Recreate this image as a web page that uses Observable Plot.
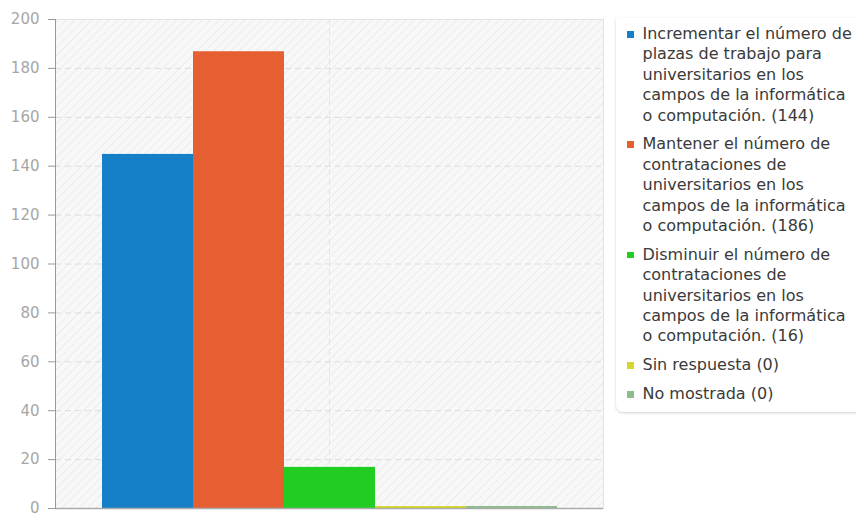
<!DOCTYPE html>
<html><head><meta charset="utf-8">
<script src="https://cdn.jsdelivr.net/npm/d3@7"></script>
<script src="https://cdn.jsdelivr.net/npm/@observablehq/plot@0.6"></script>
<style>
body{margin:0;background:#fff;font-family:"DejaVu Sans",sans-serif;}
#wrap{position:relative;width:856px;height:513px;overflow:hidden;}
#chart{position:absolute;left:0;top:0;}
#legend{position:absolute;left:616px;top:18px;width:250px;height:394px;box-sizing:border-box;
  padding:6px 0 0 11px;border-radius:0 0 0 7px;background:#fff;
  box-shadow:0 1px 3px rgba(0,0,0,0.18);font-size:16px;color:#3a3a3a;}
.item{display:flex;align-items:flex-start;margin-bottom:8.4px;line-height:20.4px;}
.sw{width:6.5px;height:6.5px;margin-top:7px;margin-right:9px;flex:none;}
.lbl{white-space:pre-line;}
</style></head>
<body><div id="wrap"><div id="chart"></div><div id="legend"></div></div>
<script>
const series = [
  "Incrementar el número de\nplazas de trabajo para\nuniversitarios en los\ncampos de la informática\no computación.",
  "Mantener el número de\ncontrataciones de\nuniversitarios en los\ncampos de la informática\no computación.",
  "Disminuir el número de\ncontrataciones de\nuniversitarios en los\ncampos de la informática\no computación.",
  "Sin respuesta",
  "No mostrada"
];
const values = [144, 186, 16, 0, 0];
const colors = ["#1580c8", "#e65f33", "#22cd22", "#d6d62e", "#8dbd8d"];
const yTicks = [0, 20, 40, 60, 80, 100, 120, 140, 160, 180, 200];

const data = series.map((s, i) => ({series: s, value: values[i]}));

const svg = Plot.plot({
  width: 610,
  height: 513,
  marginTop: 19,
  marginBottom: 5,
  marginLeft: 55,
  marginRight: 7,
  style: {fontFamily: "DejaVu Sans", fontSize: "15px", background: "transparent"},
  x: {domain: series, paddingInner: 0, paddingOuter: 0.51, axis: null},
  y: {domain: [0, 200], ticks: yTicks, label: null},
  color: {domain: series, range: colors},
  marks: [
    Plot.frame({fill: "url(#hatch)", stroke: "#e2e2e2"}),
    Plot.gridY(yTicks.filter(d => d > 0 && d < 200), {stroke: "#dcdcdc", strokeOpacity: 1, strokeDasharray: "6,4"}),
    Plot.ruleX([0], {x: null, stroke: "#e4e4e4", strokeDasharray: "6,4"}),
    Plot.barY(data, {x: "series", y: "value", fill: "series", insetTop: -2}),
    Plot.axisY(yTicks, {tickSize: 7, tickPadding: 9, stroke: "#999", fill: "#a6a6a6", fontSize: 15, label: null}),
    Plot.ruleY([0], {stroke: "#aaa", strokeWidth: 1.5}),
    Plot.frame({anchor: "left", stroke: "#999"})
  ]
});

const defs = d3.select(svg).insert("defs", ":first-child");
const pat = defs.append("pattern").attr("id", "hatch").attr("width", 6).attr("height", 6)
  .attr("patternUnits", "userSpaceOnUse").attr("patternTransform", "rotate(45)");
pat.append("rect").attr("width", 6).attr("height", 6).attr("fill", "#f8f8f8");
pat.append("line").attr("x1", 0).attr("y1", 0).attr("x2", 0).attr("y2", 6)
  .attr("stroke", "#ececec").attr("stroke-width", 2);

document.getElementById("chart").appendChild(svg);

const legend = d3.select("#legend");
series.forEach((s, i) => {
  const it = legend.append("div").attr("class", "item");
  it.append("div").attr("class", "sw").style("background", colors[i]);
  it.append("div").attr("class", "lbl").text(`${s} (${values[i]})`);
});
</script>
</body></html>
